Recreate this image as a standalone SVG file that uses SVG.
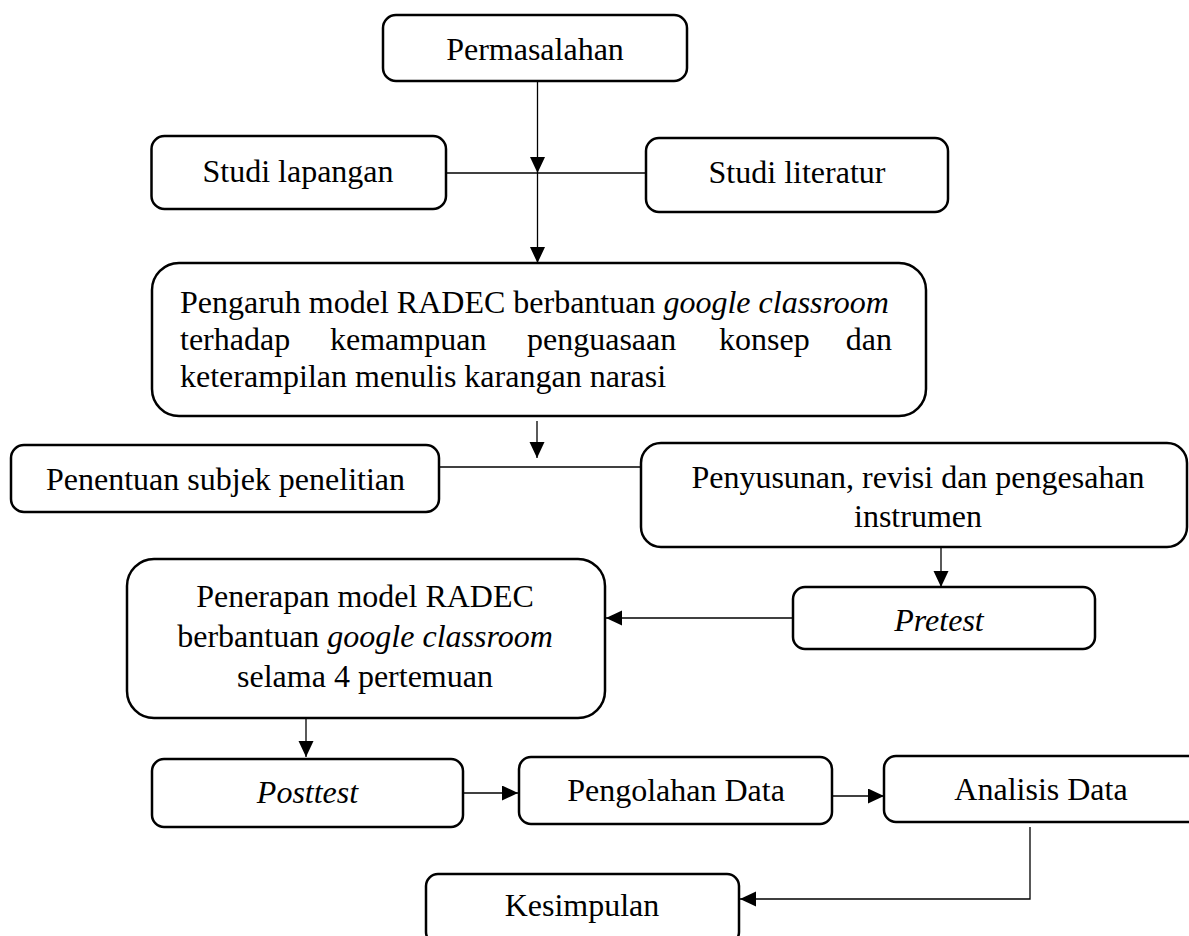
<svg xmlns="http://www.w3.org/2000/svg" width="1189" height="936" viewBox="0 0 1189 936">
<style>
.box{fill:#fff;stroke:#000;stroke-width:2.5}
.t{font-family:"Liberation Serif","Times New Roman",serif;font-size:32px;fill:#000}
.c{text-anchor:middle}
.i{font-style:italic}
.ln{fill:none;stroke:#000;stroke-width:1.3}
</style>
<defs>
<marker id="ah" markerUnits="userSpaceOnUse" markerWidth="17" markerHeight="16" refX="16" refY="7.5" orient="auto">
<path d="M0,0 L16,7.5 L0,15 z" fill="#000"/>
</marker>
</defs>
<rect width="1189" height="936" fill="#fff"/>
<g id="connectors">
<line class="ln" x1="537.5" y1="81" x2="537.5" y2="173" marker-end="url(#ah)"/>
<line class="ln" x1="446" y1="173" x2="646" y2="173"/>
<line class="ln" x1="537.5" y1="173" x2="537.5" y2="263" marker-end="url(#ah)"/>
<line class="ln" x1="537" y1="421" x2="537" y2="458" marker-end="url(#ah)"/>
<line class="ln" x1="439" y1="467" x2="641" y2="467"/>
<line class="ln" x1="941" y1="547" x2="941" y2="587" marker-end="url(#ah)"/>
<line class="ln" x1="793" y1="618" x2="606" y2="618" marker-end="url(#ah)"/>
<line class="ln" x1="306" y1="718" x2="306" y2="757" marker-end="url(#ah)"/>
<line class="ln" x1="463" y1="793" x2="518" y2="793" marker-end="url(#ah)"/>
<line class="ln" x1="832" y1="796" x2="884" y2="796" marker-end="url(#ah)"/>
<polyline class="ln" points="1030,827 1030,899 740,899" marker-end="url(#ah)"/>
</g>
<g id="permasalahan">
<rect class="box" x="383" y="15" width="304" height="66" rx="13"/>
<text class="t c" x="535" y="60">Permasalahan</text>
</g>
<g id="studi-lapangan">
<rect class="box" x="151.5" y="136" width="294.5" height="73" rx="13"/>
<text class="t c" x="298" y="182">Studi lapangan</text>
</g>
<g id="studi-literatur">
<rect class="box" x="646" y="138" width="302" height="74" rx="13"/>
<text class="t c" x="797" y="183">Studi literatur</text>
</g>
<g id="pengaruh">
<rect class="box" x="152" y="263" width="774" height="153" rx="27"/>
<text class="t" x="180" y="313">Pengaruh model RADEC berbantuan <tspan class="i">google classroom</tspan></text>
<text class="t" x="180" y="350">terhadap</text>
<text class="t" x="330" y="350">kemampuan</text>
<text class="t" x="527" y="350">penguasaan</text>
<text class="t" x="719" y="350">konsep</text>
<text class="t" x="892" y="350" text-anchor="end">dan</text>
<text class="t" x="180" y="387">keterampilan menulis karangan narasi</text>
</g>
<g id="penentuan">
<rect class="box" x="11" y="445" width="428" height="67" rx="13"/>
<text class="t c" x="225.5" y="490">Penentuan subjek penelitian</text>
</g>
<g id="penyusunan">
<rect class="box" x="641" y="443" width="546" height="104" rx="20"/>
<text class="t c" x="918" y="488">Penyusunan, revisi dan pengesahan</text>
<text class="t c" x="918" y="527">instrumen</text>
</g>
<g id="pretest">
<rect class="box" x="793" y="587" width="302" height="62" rx="12"/>
<text class="t c i" x="939" y="631">Pretest</text>
</g>
<g id="penerapan">
<rect class="box" x="127" y="559" width="478" height="159" rx="27"/>
<text class="t c" x="365" y="607">Penerapan model RADEC</text>
<text class="t c" x="365" y="647">berbantuan <tspan class="i">google classroom</tspan></text>
<text class="t c" x="365" y="687">selama 4 pertemuan</text>
</g>
<g id="posttest">
<rect class="box" x="152" y="759" width="311" height="68" rx="12"/>
<text class="t c i" x="307.5" y="803">Posttest</text>
</g>
<g id="pengolahan">
<rect class="box" x="519" y="757" width="313" height="67" rx="12"/>
<text class="t c" x="676" y="801">Pengolahan Data</text>
</g>
<g id="analisis">
<rect class="box" x="884" y="756" width="320" height="66" rx="12"/>
<text class="t c" x="1041" y="800">Analisis Data</text>
</g>
<g id="kesimpulan">
<rect class="box" x="426" y="874" width="313" height="70" rx="12"/>
<text class="t c" x="582" y="916">Kesimpulan</text>
</g>
</svg>
